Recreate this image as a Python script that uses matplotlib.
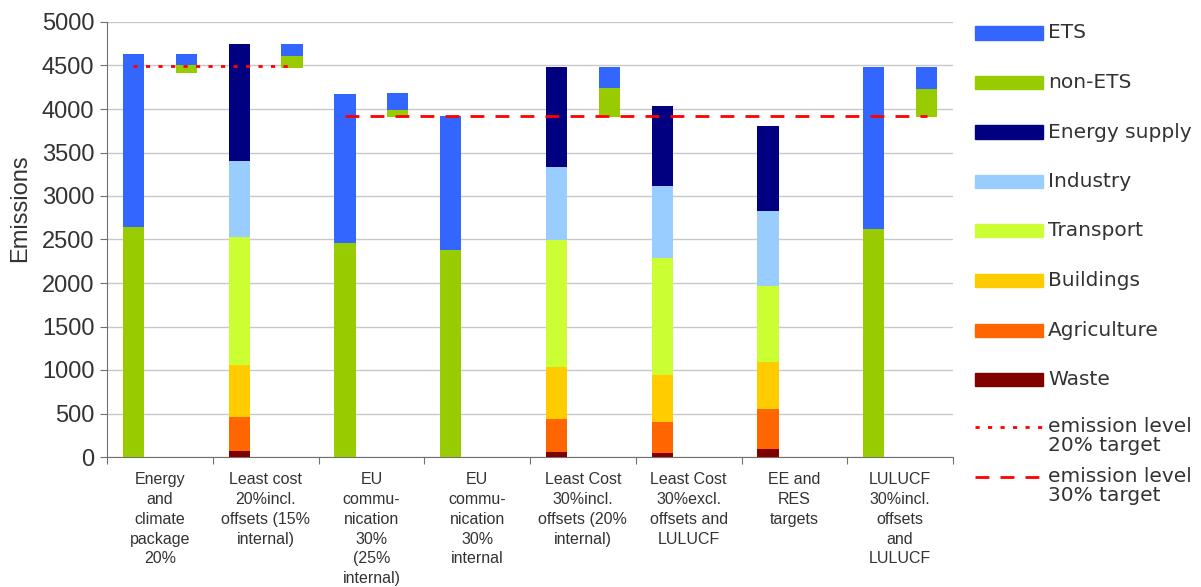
import numpy as np
import matplotlib.pyplot as plt
from matplotlib.patches import Rectangle
from matplotlib.lines import Line2D

scenarios = ['Energy\nand\nclimate\npackage\n20%',
             'Least cost\n20%incl.\noffsets (15%\ninternal)',
             'EU\ncommu-\nnication\n30%\n(25%\ninternal)',
             'EU\ncommu-\nnication\n30%\ninternal',
             'Least Cost\n30%incl.\noffsets (20%\ninternal)',
             'Least Cost\n30%excl.\noffsets and\nLULUCF',
             'EE and\nRES\ntargets',
             'LULUCF\n30%incl.\noffsets\nand\nLULUCF']

# main bars: either ETS / non-ETS split or split by sector
non_ets = [2640, 0, 2460, 2380, 0, 0, 0, 2620]
ets = [1990, 0, 1712, 1541, 0, 0, 0, 1862]
waste = [0, 70, 0, 0, 55, 45, 90, 0]
agriculture = [0, 390, 0, 0, 380, 355, 460, 0]
buildings = [0, 597, 0, 0, 597, 541, 540, 0]
transport = [0, 1472, 0, 0, 1460, 1344, 874, 0]
industry = [0, 873, 0, 0, 839, 828, 861, 0]
energy_supply = [0, 1345, 0, 0, 1150, 919, 978, 0]

# floating bars next to the main bars
float_base = [4417, 4471, 3912, 0, 3912, 0, 0, 3912]
float_non_ets = [89, 138, 77, 0, 329, 0, 0, 318]
float_ets = [126, 138, 195, 0, 242, 0, 0, 253]

target_20 = 4490
target_30 = 3920

c_ets = '#3366FF'
c_non = '#99CC00'
sector_colors = ['#800000', '#FF6600', '#FFCC00', '#CCFF33', '#99CCFF', '#000080']
sectors = [waste, agriculture, buildings, transport, industry, energy_supply]

fig = plt.figure(figsize=(12.01, 5.87), dpi=100)
ax = fig.add_axes([107/1201, 1 - 457/587, 846/1201, 435/587])

x = np.arange(len(scenarios))
w = 0.2
xm = x - 0.25
xf = x + 0.25

ax.bar(xm, non_ets, w, color=c_non, zorder=3)
ax.bar(xm, ets, w, bottom=non_ets, color=c_ets, zorder=3)
bottom = np.zeros(len(x))
for vals, col in zip(sectors, sector_colors):
    ax.bar(xm, vals, w, bottom=bottom, color=col, zorder=3)
    bottom += np.array(vals)

fb = np.array(float_base)
fn = np.array(float_non_ets)
ax.bar(xf, fn, w, bottom=fb, color=c_non, zorder=3)
ax.bar(xf, float_ets, w, bottom=fb + fn, color=c_ets, zorder=3)

ax.plot([xm[0], xf[1]], [target_20, target_20], color='#FF0000', lw=2,
        ls=(0, (1.5, 3)), zorder=4)
ax.plot([xm[2], xf[7]], [target_30, target_30], color='#FF0000', lw=2,
        ls=(0, (5, 4)), zorder=4)

ax.set_xlim(-0.5, 7.5)
ax.set_ylim(0, 5000)
ax.set_yticks(np.arange(0, 5001, 500))
ax.grid(axis='y', color='#C8C8C8', lw=1, zorder=0)
ax.set_xticks(np.arange(-0.5, 7.6, 1))
ax.set_xticklabels([])
ax.set_xticks(x, minor=True)
ax.set_xticklabels(scenarios, minor=True, fontsize=11.5, family='Liberation Sans',
                   color='#333333', linespacing=1.4, va='top')
ax.tick_params(axis='x', which='minor', length=0, pad=11)
ax.tick_params(axis='x', which='major', length=5, color='#707070')
ax.tick_params(axis='y', length=5, color='#707070', labelsize=17,
               labelcolor='#333333', pad=4)
for lab in ax.get_yticklabels():
    lab.set_family('Liberation Sans')
ax.set_ylabel('Emissions', fontsize=17, family='Liberation Sans', color='#333333')
ax.yaxis.set_label_coords(-76/846, 0.572)
for s in ['top', 'right']:
    ax.spines[s].set_visible(False)
for s in ['left', 'bottom']:
    ax.spines[s].set_color('#707070')

# legend on the right
names = ['ETS', 'non-ETS', 'Energy supply', 'Industry', 'Transport',
         'Buildings', 'Agriculture', 'Waste']
cols = [c_ets, c_non] + sector_colors[::-1]
for i, (n, c) in enumerate(zip(names, cols)):
    yc = 33 + 49.5 * i
    fig.add_artist(Rectangle((975/1201, 1 - (yc + 6.5)/587), 68/1201, 13/587,
                             color=c, transform=fig.transFigure))
    fig.text(1048/1201, 1 - yc/587, n, fontsize=14.5, family='DejaVu Sans',
             color='#333333', va='center')

for i, (txt, ls) in enumerate([('emission level\n20% target', (0, (1.5, 3))),
                               ('emission level\n30% target', (0, (5, 4)))]):
    yc = 427 + 50 * i
    fig.add_artist(Line2D([975/1201, 1043/1201], [1 - yc/587] * 2, color='#FF0000',
                          lw=2, ls=ls, transform=fig.transFigure))
    fig.text(1048/1201, 1 - (yc - 10)/587, txt, fontsize=14.5, family='DejaVu Sans',
             color='#333333', va='top', linespacing=1.0)

fig.savefig('out.png', dpi=100)
